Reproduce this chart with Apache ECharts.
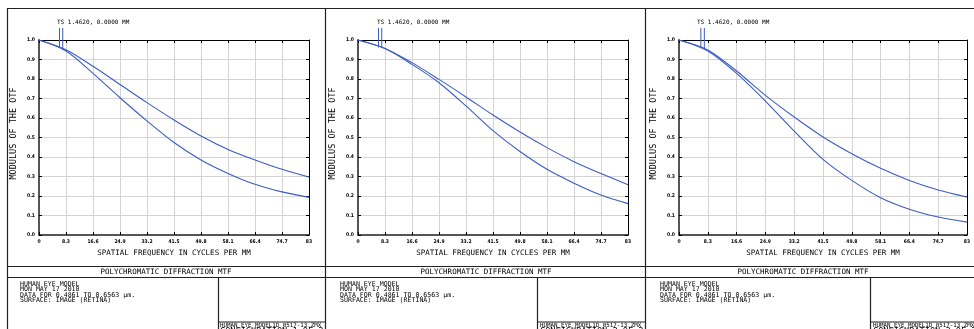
<!DOCTYPE html>
<html><head><meta charset="utf-8">
<script src="https://cdn.jsdelivr.net/npm/echarts@6/dist/echarts.min.js"></script>
<style>html,body{margin:0;padding:0;background:#fff}#c{width:974px;height:329px}</style>
</head><body><div id="c"></div>
<script>
// ---- data ----
const freqTicks  = [0, 8.3, 16.6, 24.9, 33.2, 41.5, 49.8, 58.1, 66.4, 74.7, 83];
const freqLabels = ['0','8.3','16.6','24.9','33.2','41.5','49.8','58.1','66.4','74.7','83'];
const mtfLabels  = ['0.0','0.1','0.2','0.3','0.4','0.5','0.6','0.7','0.8','0.9','1.0'];

const config1T = [1.0, 0.950, 0.865, 0.772, 0.679, 0.590, 0.508, 0.439, 0.385, 0.337, 0.297];
const config1S = [1.0, 0.944, 0.829, 0.704, 0.585, 0.474, 0.385, 0.316, 0.260, 0.221, 0.193];
const config2T = [1.0, 0.957, 0.884, 0.798, 0.708, 0.615, 0.528, 0.448, 0.376, 0.315, 0.258];
const config2S = [1.0, 0.956, 0.875, 0.781, 0.662, 0.535, 0.428, 0.337, 0.266, 0.205, 0.161];
const config3T = [1.0, 0.949, 0.841, 0.716, 0.605, 0.503, 0.417, 0.342, 0.280, 0.231, 0.195];
const config3S = [1.0, 0.944, 0.829, 0.687, 0.533, 0.388, 0.280, 0.191, 0.132, 0.092, 0.066];

const leaderFreqs = [6.3, 7.3];
const leaderTop = 1.062;
const leaderBottoms = [[0.958, 0.948], [0.962, 0.958], [0.958, 0.950]];

const fieldLabel = 'TS 1.4620, 0.0000 MM';
const plotTitle = 'POLYCHROMATIC DIFFRACTION MTF';
const xTitle = 'SPATIAL FREQUENCY IN CYCLES PER MM';
const yTitle = 'MODULUS OF THE OTF';
const infoLines = ['HUMAN EYE MODEL', 'MON MAY 17 2010', 'DATA FOR 0.4861 TO 0.6563 \u00b5m.', 'SURFACE: IMAGE (RETINA)'];
const fileName = 'HUMAN_EYE_MODEL1D 0517-13.ZMX';
const configLabels = ['CONFIGURATION 1 OF 3', 'CONFIGURATION 2 OF 3', 'CONFIGURATION 3 OF 3'];

// ---- layout ----
const curves = [[config1T, config1S], [config2T, config2S], [config3T, config3S]];
const panels = [
  {x0: 7,   x1: 325, left: 39,  width: 270, div: 218, textX: 20,  titleC: 166, tsX: 57,  fileX: 220},
  {x0: 325, x1: 645, left: 358, width: 270, div: 537, textX: 340, titleC: 486, tsX: 377, fileX: 540},
  {x0: 645, x1: 974, left: 679, width: 288, div: 870, textX: 660, titleC: 803, tsX: 697, fileX: 873}
];
const MONO = '"DejaVu Sans Mono", "Liberation Mono", monospace';
const COND = '"DejaVu Sans Condensed", "DejaVu Sans", sans-serif';
const BLUE = '#3b5cc4';
const FRAME = '#222';

const chart = echarts.init(document.getElementById('c'));
const grids = [], xAxes = [], yAxes = [], series = [], graphics = [];

panels.forEach((p, i) => {
  grids.push({left: p.left, top: 40, width: p.width, height: 195, containLabel: false});
  xAxes.push({
    type: 'value', gridIndex: i, min: 0, max: 83, interval: 8.3, position: 'bottom',
    axisLine: {show: true, onZero: false, lineStyle: {color: '#555', width: 2}},
    axisTick: {show: true, inside: true, length: 3, lineStyle: {color: '#000'}},
    axisLabel: {show: true, margin: 4, fontSize: 5, fontWeight: 'bold', fontFamily: COND, color: '#000',
      formatter: v => { const k = freqTicks.findIndex(t => Math.abs(t - v) < 0.01); return k >= 0 ? freqLabels[k] : ''; }},
    splitLine: {show: true, lineStyle: {color: '#d4d4d4', width: 1}},
    name: xTitle, nameLocation: 'middle', nameGap: 14,
    nameTextStyle: {fontFamily: MONO, fontSize: 7.5, color: '#000'}
  });
  xAxes.push({
    type: 'value', gridIndex: i, min: 0, max: 83, interval: 8.3, position: 'top',
    axisLine: {show: true, onZero: false, lineStyle: {color: '#000', width: 1}},
    axisTick: {show: true, inside: true, length: 3, lineStyle: {color: '#000'}},
    axisLabel: {show: false}, splitLine: {show: false}
  });
  yAxes.push({
    type: 'value', gridIndex: i, min: 0, max: 1, interval: 0.1, position: 'left',
    axisLine: {show: true, onZero: false, lineStyle: {color: '#555', width: 2}},
    axisTick: {show: true, inside: true, length: 3, lineStyle: {color: '#000'}},
    axisLabel: {show: true, margin: 4, fontSize: 5, fontWeight: 'bold', fontFamily: COND, color: '#000',
      formatter: v => mtfLabels[Math.round(v * 10)]},
    splitLine: {show: true, lineStyle: {color: '#d4d4d4', width: 1}},
    name: yTitle, nameLocation: 'middle', nameGap: 21, nameRotate: 90,
    nameTextStyle: {fontFamily: MONO, fontSize: 8.5, color: '#000', padding: [0, 0, 0, 8]}
  });
  yAxes.push({
    type: 'value', gridIndex: i, min: 0, max: 1, interval: 0.1, position: 'right',
    axisLine: {show: true, onZero: false, lineStyle: {color: '#000', width: 1}},
    axisTick: {show: true, inside: true, length: 3, lineStyle: {color: '#000'}},
    axisLabel: {show: false}, splitLine: {show: false}
  });
  const [T, S] = curves[i];
  [['T', T], ['S', S]].forEach(([nm, arr]) => {
    series.push({
      type: 'line', name: nm, xAxisIndex: 2 * i, yAxisIndex: 2 * i,
      data: freqTicks.map((f, k) => [f, arr[k]]),
      smooth: 0.3, symbol: 'none', lineStyle: {color: BLUE, width: 1.1}, z: 5
    });
  });
  leaderFreqs.forEach((f, k) => {
    series.push({
      type: 'line', xAxisIndex: 2 * i, yAxisIndex: 2 * i, clip: false,
      data: [[f, leaderBottoms[i][k]], [f, leaderTop]],
      symbol: 'none', lineStyle: {color: BLUE, width: 1}, z: 5
    });
  });

  // frames & boxes
  const L = (x1, y1, x2, y2, w) => graphics.push({type: 'line', shape: {x1, y1, x2, y2}, style: {stroke: FRAME, lineWidth: w || 1.2}, silent: true});
  L(p.x0, 8.5, p.x1, 8.5);
  L(p.x0 + 0.5, 8, p.x0 + 0.5, 329);
  L(p.x0, 266.5, p.x1, 266.5);
  L(p.x0, 277.5, p.x1, 277.5);
  L(p.div + 0.5, 277.5, p.div + 0.5, 329);
  L(p.div, 322, p.x1, 322);
  const T2 = (text, x, y, size, align, va) => graphics.push({
    type: 'text', x, y, silent: true,
    style: {text, font: size + 'px ' + MONO, fill: '#000', textAlign: align || 'left', textVerticalAlign: va || 'middle'}
  });
  T2(fieldLabel, p.tsX, 22.5, 6);
  T2(plotTitle, p.titleC, 272, 7.5, 'center');
  infoLines.forEach((t, k) => T2(t, p.textX, 284.3 + k * 5.33, 6.6));
  T2(fileName, p.fileX, 325.3, 5.8);
  T2(configLabels[i], p.fileX, 327.4, 8.6, 'left', 'top');
});

chart.setOption({
  animation: false,
  backgroundColor: '#fff',
  grid: grids, xAxis: xAxes, yAxis: yAxes, series: series,
  graphic: {elements: graphics}
});
</script></body></html>
